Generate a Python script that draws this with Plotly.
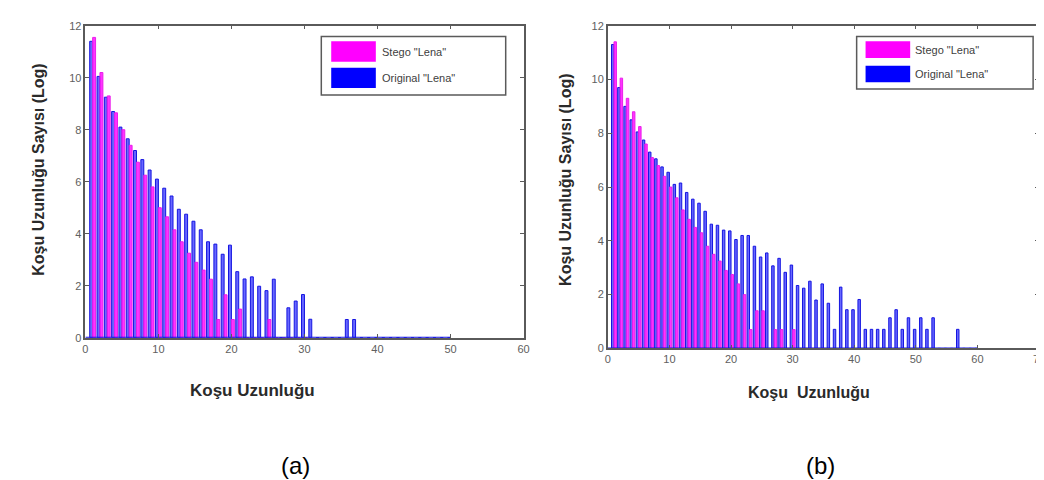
import plotly.graph_objects as go

W, H = 1044, 480

# ---------------- data ----------------
series_names = ['Stego "Lena"', 'Original "Lena"']

left_k = list(range(1, 51))
left_original = [11.4, 10.05, 9.25, 8.7, 8.1, 7.65, 7.2, 6.85, 6.45, 6.1,
                 5.75, 5.45, 4.94, 4.75, 4.48, 4.15, 3.69, 3.6, 3.21, 3.56,
                 2.54, 2.26, 2.34, 1.98, 1.81, 2.25, 0, 1.15, 1.41, 1.66,
                 0.71, 0, 0, 0, 0, 0.7, 0.7, 0, 0, 0,
                 0, 0, 0, 0, 0, 0, 0, 0, 0, 0]
left_stego = [11.55, 10.2, 9.3, 8.65, 8.0, 7.4, 6.75, 6.25, 5.8, 5.0,
              4.65, 4.15, 3.69, 3.25, 2.9, 2.6, 2.25, 0.7, 1.65, 0.7,
              1.1, 0, 0, 0, 0.7, 0, 0, 0, 0, 0,
              None, None, None, None, None, None, None, None, None, None,
              None, None, None, None, None, None, None, None, None, None]

right_k = list(range(1, 61))
right_original = [11.3, 9.7, 9.0, 8.5, 8.05, 7.75, 7.3, 7.05, 6.75, 6.55,
                  6.1, 6.15, 5.8, 5.55, 5.4, 5.1, 4.62, 4.58, 4.4, 4.37,
                  4.05, 4.2, 4.2, 3.8, 3.4, 3.55, 3.07, 3.35, 2.83, 3.1,
                  2.34, 2.24, 2.5, 1.8, 2.4, 1.68, 0.71, 2.28, 1.44, 1.44,
                  1.82, 0.71, 0.71, 0.71, 0.71, 1.14, 1.44, 0.71, 1.14, 0.71,
                  1.14, 0.71, 1.14, 0, 0, 0, 0.71, 0, 0, 0]
right_stego = [11.4, 10.05, 9.3, 8.8, 8.25, 7.6, 7.1, 6.8, 6.4, 6.0,
               5.6, 5.15, 4.8, 4.5, 4.3, 3.8, 3.5, 3.25, 2.9, 2.75,
               2.4, 2.0, 0.7, 1.4, 1.4, 0, 0.7, 0.7, 0, 0.7,
               0, 0, 0, 0, 0, None, None, None, None, None,
               None, None, None, None, None, None, None, None, None, None,
               None, None, None, None, None, None, None, None, None, None]

x_ticks_left = [0, 10, 20, 30, 40, 50, 60]
x_ticks_right = [0, 10, 20, 30, 40, 50, 60, 70]
y_ticks = [0, 2, 4, 6, 8, 10, 12]

x_title = "Koşu Uzunluğu"
x_title_right = "Koşu  Uzunluğu"
y_title = "Koşu Uzunluğu Sayısı (Log)"
panel_labels = ["(a)", "(b)"]

# ---------------- styles ----------------
MAG_FILL = "rgba(255,0,255,0.8)"
MAG_EDGE = "rgb(235,30,235)"
BLUE_FILL = "rgba(40,40,255,0.7)"
BLUE_EDGE = "rgb(20,20,225)"
AX_COL = "#5a5a5a"
TICK_FONT = dict(family="Liberation Sans, Arial", size=11, color="#606060")


def px(x):
    return x / W


def py(y):
    return 1 - y / H


fig = go.Figure()

fig.add_trace(go.Bar(x=left_k, y=left_original, name=series_names[1],
                     xaxis="x", yaxis="y", showlegend=False,
                     marker=dict(color=BLUE_FILL, line=dict(color=BLUE_EDGE, width=1))))
fig.add_trace(go.Bar(x=left_k, y=left_stego, name=series_names[0],
                     xaxis="x", yaxis="y", showlegend=False,
                     marker=dict(color=MAG_FILL, line=dict(color=MAG_EDGE, width=1))))
fig.add_trace(go.Bar(x=right_k, y=right_original, name=series_names[1],
                     xaxis="x2", yaxis="y2", showlegend=False,
                     marker=dict(color=BLUE_FILL, line=dict(color=BLUE_EDGE, width=1))))
fig.add_trace(go.Bar(x=right_k, y=right_stego, name=series_names[0],
                     xaxis="x2", yaxis="y2", showlegend=False,
                     marker=dict(color=MAG_FILL, line=dict(color=MAG_EDGE, width=1))))

# zero-height bars of the original series form a continuous baseline in the reference
fig.add_trace(go.Scatter(x=[0] + left_k, y=[0] * (len(left_k) + 1), mode="lines",
                         xaxis="x", yaxis="y", showlegend=False, hoverinfo="skip",
                         line=dict(color=BLUE_EDGE, width=2)))
fig.add_trace(go.Scatter(x=[0] + right_k, y=[0] * (len(right_k) + 1), mode="lines",
                         xaxis="x2", yaxis="y2", showlegend=False, hoverinfo="skip",
                         line=dict(color=BLUE_EDGE, width=2)))

axis_common = dict(showgrid=False, zeroline=False, showline=True, linecolor=AX_COL,
                   linewidth=1.5, mirror="ticks", ticks="inside", ticklen=4,
                   tickcolor=AX_COL, tickfont=TICK_FONT, fixedrange=True)

fig.update_layout(
    width=W, height=H, autosize=False,
    margin=dict(l=0, r=0, t=0, b=0),
    paper_bgcolor="white", plot_bgcolor="white",
    barmode="group", bargap=0.2, bargroupgap=0.0,
    xaxis=dict(domain=[px(75), px(517)], range=[0, 60], tickvals=x_ticks_left,
               anchor="y", **axis_common),
    yaxis=dict(domain=[py(332), py(12)], range=[0, 12], tickvals=y_ticks,
               anchor="x", **axis_common),
    xaxis2=dict(domain=[px(602), px(1037)], range=[0, 70], tickvals=x_ticks_right,
                anchor="y2", **axis_common),
    yaxis2=dict(domain=[py(343), py(12)], range=[0, 12], tickvals=y_ticks,
                anchor="x2", **axis_common),
)

shapes = []
annotations = []

# legends (drawn manually to match the large MATLAB patches)
legends = [
    dict(box=(313, 23, 499, 83), patch_x=(323, 368), rows=[(28, 49), (55, 76)], text_x=372),
    dict(box=(853, 23, 1031, 77), patch_x=(862, 907), rows=[(28, 45), (53, 70)], text_x=910),
]
for lg in legends:
    x0, y0, x1, y1 = lg["box"]
    shapes.append(dict(type="rect", xref="paper", yref="paper",
                       x0=px(x0), x1=px(x1), y0=py(y1), y1=py(y0),
                       line=dict(color=AX_COL, width=1.5), fillcolor="white", layer="above"))
    for (r0, r1), fill, name in zip(lg["rows"], ["#ff00ff", "#0000ff"], series_names):
        shapes.append(dict(type="rect", xref="paper", yref="paper",
                           x0=px(lg["patch_x"][0]), x1=px(lg["patch_x"][1]),
                           y0=py(r1), y1=py(r0), line=dict(width=0),
                           fillcolor=fill, layer="above"))
        annotations.append(dict(text=name, xref="paper", yref="paper",
                                x=px(lg["text_x"]), y=py((r0 + r1) / 2),
                                xanchor="left", yanchor="middle", showarrow=False,
                                font=dict(family="Liberation Sans, Arial", size=11, color="#404040")))

# axis titles
title_font = dict(family="Liberation Sans, Arial", size=16, color="#2a2a2a", weight="bold")
annotations.append(dict(text=x_title, xref="paper", yref="paper", x=px(244), y=py(386),
                        xanchor="center", yanchor="middle", showarrow=False,
                        font=dict(family="Liberation Sans, Arial", size=17, color="#2a2a2a", weight="bold")))
annotations.append(dict(text=x_title_right, xref="paper", yref="paper", x=px(805), y=py(388),
                        xanchor="center", yanchor="middle", showarrow=False,
                        font=dict(family="Liberation Sans, Arial", size=16, color="#2a2a2a", weight="bold")))
annotations.append(dict(text=y_title, xref="paper", yref="paper", x=px(28), y=py(160),
                        xanchor="center", yanchor="middle", showarrow=False, textangle=-90,
                        font=title_font))
annotations.append(dict(text=y_title, xref="paper", yref="paper", x=px(560), y=py(170),
                        xanchor="center", yanchor="middle", showarrow=False, textangle=-90,
                        font=title_font))
# panel labels
for lab, cx in zip(panel_labels, [287, 817]):
    annotations.append(dict(text=lab, xref="paper", yref="paper", x=px(cx), y=py(463),
                            xanchor="center", yanchor="middle", showarrow=False,
                            font=dict(family="Liberation Sans, Arial", size=24, color="black")))

fig.update_layout(shapes=shapes, annotations=annotations)

fig.write_html("out.html")
